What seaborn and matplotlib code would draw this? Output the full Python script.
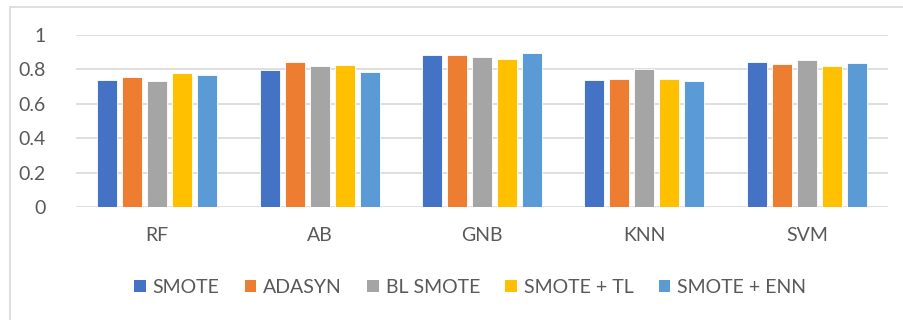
import matplotlib
matplotlib.use("Agg")
import matplotlib.pyplot as plt
from matplotlib.patches import Patch
from matplotlib.lines import Line2D
import seaborn as sns
import pandas as pd

# Classifiers and resampling methods
classifiers = ["RF", "AB", "GNB", "KNN", "SVM"]
methods = ["SMOTE", "ADASYN", "BL SMOTE", "SMOTE + TL", "SMOTE + ENN"]

# Scores per resampling method, one value per classifier
smote = [0.735, 0.797, 0.880, 0.735, 0.842]
adasyn = [0.753, 0.842, 0.884, 0.745, 0.830]
bl_smote = [0.732, 0.819, 0.869, 0.801, 0.851]
smote_tl = [0.778, 0.824, 0.857, 0.745, 0.819]
smote_enn = [0.764, 0.784, 0.892, 0.732, 0.838]

yticks = [0, 0.2, 0.4, 0.6, 0.8, 1]
ytick_labels = ["0", "0.2", "0.4", "0.6", "0.8", "1"]

colors = ["#4472C4", "#ED7D31", "#A5A5A5", "#FFC000", "#5B9BD5"]

series = [smote, adasyn, bl_smote, smote_tl, smote_enn]
rows = []
for m, vals in zip(methods, series):
    for c, v in zip(classifiers, vals):
        rows.append({"Classifier": c, "Method": m, "Score": v})
df = pd.DataFrame(rows)

sns.set_theme(style="white")
plt.rcParams["font.family"] = ["Lato", "DejaVu Sans"]
text_color = "#595959"
grid_color = "#D9D9D9"

fig = plt.figure(figsize=(9.04, 3.2), dpi=100)
ax = fig.add_axes([76 / 904, 1 - 207.3 / 320, (888 - 76) / 904, (207.3 - 34.7) / 320])

sns.barplot(data=df, x="Classifier", y="Score", hue="Method", order=classifiers,
            hue_order=methods, palette=colors, saturation=1, width=0.77, gap=0.2,
            edgecolor="white", linewidth=0.6, legend=False, ax=ax, zorder=3)

ax.set_ylim(0, 1)
ax.set_xlim(-0.5, len(classifiers) - 0.5)
ax.set_yticks(yticks)
ax.set_yticklabels(ytick_labels)
ax.yaxis.grid(True, color=grid_color, linewidth=1.2, zorder=0)
ax.set_axisbelow(True)
for s in ax.spines.values():
    s.set_visible(False)
ax.set_xlabel("")
ax.set_ylabel("")
ax.tick_params(axis="both", length=0, labelsize=14, colors=text_color)
ax.tick_params(axis="y", pad=22)
ax.tick_params(axis="x", pad=14)

# Legend below the plot
handles = [Patch(facecolor=c, edgecolor="none") for c in colors]
fig.legend(handles, methods, loc="center", bbox_to_anchor=(0.52, 0.103), ncol=5,
           frameon=False, fontsize=14, handlelength=0.6, handleheight=0.6,
           handletextpad=0.35, columnspacing=1.3, labelcolor=text_color)

# Chart frame
fig.add_artist(Line2D([10 / 904, 1], [1 - 7 / 320, 1 - 7 / 320], color=grid_color, linewidth=1.2))
fig.add_artist(Line2D([10 / 904, 10 / 904], [0, 1 - 7 / 320], color=grid_color, linewidth=1.2))

fig.savefig("out.png", dpi=100, facecolor="white")
